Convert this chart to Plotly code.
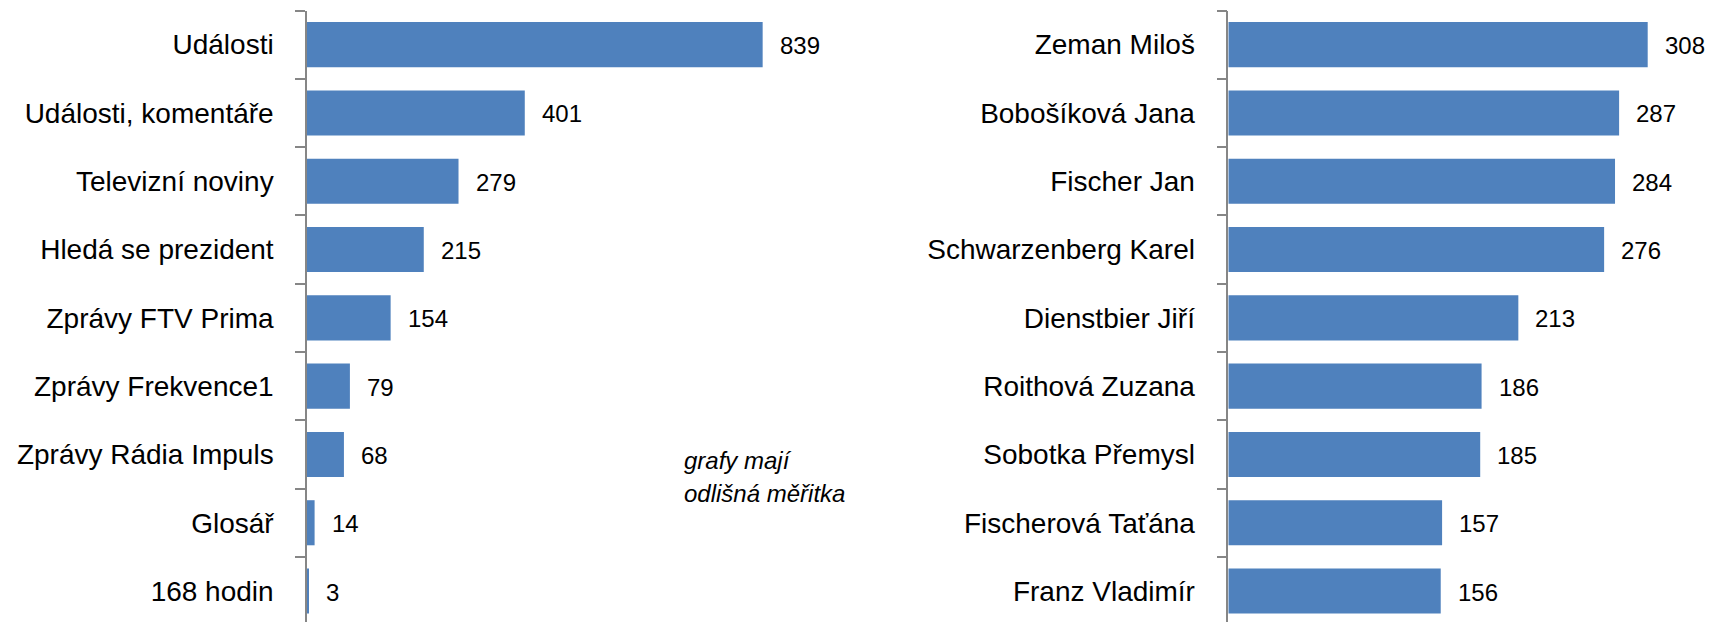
import plotly.graph_objects as go

# ---- data ----
left_categories = ["Události", "Události, komentáře", "Televizní noviny", "Hledá se prezident",
                   "Zprávy FTV Prima", "Zprávy Frekvence1", "Zprávy Rádia Impuls", "Glosář", "168 hodin"]
left_values = [839, 401, 279, 215, 154, 79, 68, 14, 3]

right_categories = ["Zeman Miloš", "Bobošíková Jana", "Fischer Jan", "Schwarzenberg Karel",
                    "Dienstbier Jiří", "Roithová Zuzana", "Sobotka Přemysl", "Fischerová Taťána",
                    "Franz Vladimír"]
right_values = [308, 287, 284, 276, 213, 186, 185, 157, 156]

note_lines = ["grafy mají", "odlišná měřitka"]

# ---- style ----
W, H = 1714, 622
BAR = "#4F81BD"
AXIS = "#868686"
FONT = "Liberation Sans"
CAT_SIZE = 28
VAL_SIZE = 24

fig = go.Figure()
fig.add_trace(go.Bar(x=left_values, y=left_categories, orientation="h",
                     marker=dict(color=BAR, line=dict(width=0)),
                     xaxis="x", yaxis="y", hoverinfo="skip"))
fig.add_trace(go.Bar(x=right_values, y=right_categories, orientation="h",
                     marker=dict(color=BAR, line=dict(width=0)),
                     xaxis="x2", yaxis="y2", hoverinfo="skip"))

annotations = []
for xref, yref, cats, vals in (("x", "y", left_categories, left_values),
                               ("x2", "y2", right_categories, right_values)):
    for c, v in zip(cats, vals):
        annotations.append(dict(x=v, y=c, xref=xref, yref=yref, text=str(v),
                                showarrow=False, xanchor="left", yanchor="middle",
                                xshift=15, yshift=-1,
                                font=dict(family=FONT, size=VAL_SIZE, color="#000000")))

for i, line in enumerate(note_lines):
    annotations.append(dict(x=682 / W, y=1 - (460 + 33 * i) / H, xref="paper", yref="paper",
                            text=f"<i>{line}</i>", showarrow=False, xanchor="left", yanchor="middle",
                            font=dict(family=FONT, size=24, color="#000000")))

top_frac = 1 - 10.5 / H
n_span = (H - 10.5) / 68.3  # categories visible in plot height
yrange = [-0.5 + n_span, -0.5]

def yaxis_cfg(anchor):
    return dict(anchor=anchor, domain=[0, top_frac], range=yrange, type="category",
                showline=True, linecolor=AXIS, linewidth=1.5,
                ticks="outside", tickson="boundaries", ticklen=10, tickwidth=1.5, tickcolor=AXIS,
                ticklabelstandoff=26, showgrid=False, zeroline=False,
                tickfont=dict(family=FONT, size=CAT_SIZE, color="#000000"))

def xaxis_cfg(anchor, domain, rng):
    return dict(anchor=anchor, domain=domain, range=rng, visible=False,
                showgrid=False, zeroline=False)

x1_left, px1 = 307, 0.5431
x2_left, px2 = 1228.3, 1.3617
fig.update_layout(
    width=W, height=H,
    margin=dict(l=0, r=0, t=0, b=0, pad=0),
    paper_bgcolor="white", plot_bgcolor="white",
    showlegend=False, bargap=0.34,
    font=dict(family=FONT),
    xaxis=xaxis_cfg("y", [x1_left / W, (x1_left + 900 * px1) / W], [0, 900]),
    yaxis=yaxis_cfg("x"),
    xaxis2=xaxis_cfg("y2", [x2_left / W, 1.0], [0, (W - x2_left) / px2]),
    yaxis2=yaxis_cfg("x2"),
    annotations=annotations,
)

fig.write_html("out.html", config={"displayModeBar": False},
               post_script="document.body.style.margin='0px';document.body.style.overflow='hidden';")
